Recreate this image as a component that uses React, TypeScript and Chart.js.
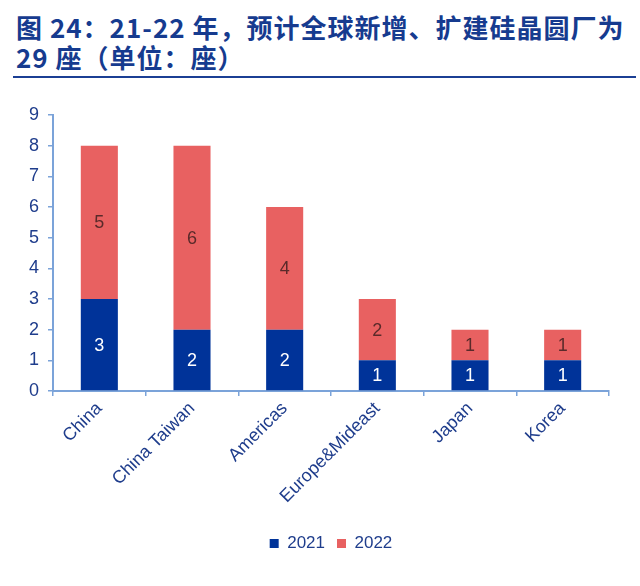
import { useEffect, useRef } from "react";
import { Chart, registerables } from "chart.js";

Chart.register(...registerables);

const categories = ["China", "China Taiwan", "Americas", "Europe&Mideast", "Japan", "Korea"];
const values2021 = [3, 2, 2, 1, 1, 1];
const values2022 = [5, 6, 4, 2, 1, 1];
const seriesNames = ["2021", "2022"];

const BLUE = "#003399";
const RED = "#e86161";
const TEXT = "#1f3d8c";
const AXIS = "#7ba3d9";
const FONT = "'Liberation Sans', Arial, sans-serif";

// labels in the middle of each stacked segment
const segmentLabels = {
  id: "segmentLabels",
  afterDatasetsDraw(chart: any) {
    const ctx = chart.ctx;
    ctx.save();
    ctx.font = "18px " + FONT;
    ctx.textAlign = "center";
    ctx.textBaseline = "middle";
    chart.data.datasets.forEach((ds: any, i: number) => {
      const meta = chart.getDatasetMeta(i);
      meta.data.forEach((bar: any, j: number) => {
        const y = (bar.y + bar.base) / 2;
        ctx.fillStyle = i === 0 ? "#ffffff" : "#5a2a2a";
        ctx.fillText(String(ds.data[j]), bar.x, y + 1);
      });
    });
    ctx.restore();
  },
};

export default function App() {
  const canvasRef = useRef<HTMLCanvasElement>(null);

  useEffect(() => {
    document.body.style.margin = "0";
    if (!canvasRef.current) return;

    const chart = new Chart(canvasRef.current, {
      type: "bar",
      data: {
        labels: categories,
        datasets: [
          {
            label: seriesNames[0],
            data: values2021,
            backgroundColor: BLUE,
            categoryPercentage: 0.8,
            barPercentage: 0.5,
          },
          {
            label: seriesNames[1],
            data: values2022,
            backgroundColor: RED,
            categoryPercentage: 0.8,
            barPercentage: 0.5,
          },
        ],
      },
      options: {
        animation: false,
        responsive: false,
        devicePixelRatio: 1,
        layout: { padding: { left: 0, right: 31, top: 25, bottom: 24 } },
        plugins: {
          legend: {
            position: "bottom",
            fullSize: false, // centre under the plot area, not the canvas
            labels: {
              boxWidth: 9,
              boxHeight: 9,
              padding: 12,
              color: TEXT,
              font: { size: 17, family: FONT },
            },
          },
          tooltip: { enabled: false },
        },
        scales: {
          x: {
            stacked: true,
            afterFit: (scale: any) => {
              scale.height = 132;
            },
            grid: {
              display: true,
              drawOnChartArea: false,
              drawTicks: true,
              tickLength: 5,
              color: AXIS,
              lineWidth: 1.5,
            },
            border: { display: true, color: AXIS, width: 2 },
            ticks: {
              minRotation: 45,
              maxRotation: 45,
              padding: 2,
              color: TEXT,
              font: { size: 18, family: FONT },
            },
          },
          y: {
            stacked: true,
            min: 0,
            max: 9,
            afterFit: (scale: any) => {
              scale.width = 53;
            },
            grid: {
              display: true,
              drawOnChartArea: false,
              drawTicks: true,
              tickLength: 5,
              color: AXIS,
              lineWidth: 1.5,
            },
            border: { display: true, color: AXIS, width: 2 },
            ticks: {
              stepSize: 1,
              padding: 9,
              color: TEXT,
              font: { size: 18, family: FONT },
            },
          },
        },
      },
      plugins: [segmentLabels],
    });

    return () => {
      chart.destroy();
    };
  }, []);

  return (
    <div style={{ position: "relative", width: 640, height: 586, background: "#fff" }}>
      <div
        style={{
          position: "absolute",
          left: 13,
          top: 12,
          width: 623,
          paddingLeft: 3,
          boxSizing: "border-box",
          borderBottom: "2px solid #1b3f94",
          fontFamily: "'Noto Sans CJK SC', sans-serif",
          fontWeight: 700,
          fontSize: 26,
          letterSpacing: 1,
          lineHeight: "30px",
          color: "#163b8f",
          whiteSpace: "nowrap",
          paddingBottom: 4,
        }}
      >
        <div>图 24：21-22 年，预计全球新增、扩建硅晶圆厂为</div>
        <div>29 座（单位：座）</div>
      </div>
      <canvas
        ref={canvasRef}
        width={640}
        height={496}
        style={{ position: "absolute", left: 0, top: 90 }}
      ></canvas>
    </div>
  );
}
